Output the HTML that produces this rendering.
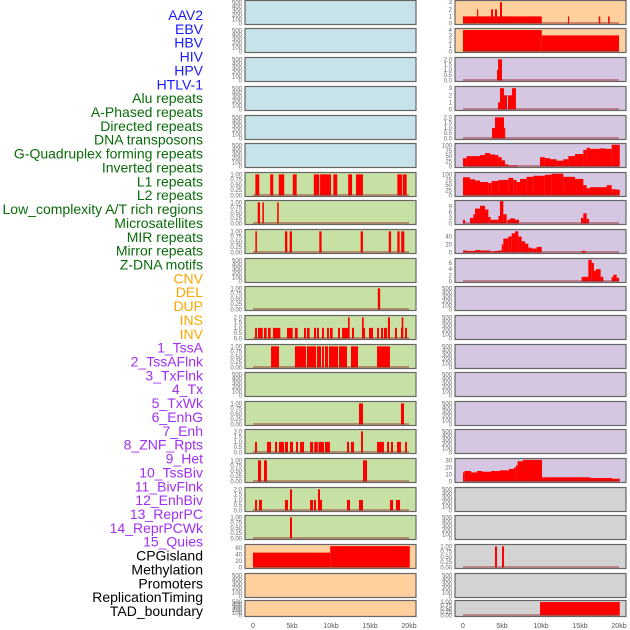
<!DOCTYPE html>
<html><head><meta charset="utf-8"><style>
html,body{margin:0;padding:0;background:#fff;}
svg{display:block;font-family:"Liberation Sans",sans-serif;}
</style></head><body>
<svg id="chart" width="630" height="630" viewBox="0 0 630 630" xmlns="http://www.w3.org/2000/svg"></svg>
<script>
const featureLabels = ["AAV2","EBV","HBV","HIV","HPV","HTLV-1","Alu repeats","A-Phased repeats","Directed repeats","DNA transposons","G-Quadruplex forming repeats","Inverted repeats","L1 repeats","L2 repeats","Low_complexity A/T rich regions","Microsatellites","MIR repeats","Mirror repeats","Z-DNA motifs","CNV","DEL","DUP","INS","INV","1_TssA","2_TssAFlnk","3_TxFlnk","4_Tx","5_TxWk","6_EnhG","7_Enh","8_ZNF_Rpts","9_Het","10_TssBiv","11_BivFlnk","12_EnhBiv","13_ReprPC","14_ReprPCWk","15_Quies","CPGisland","Methylation","Promoters","ReplicationTiming","TAD_boundary"];
const labelGroups = [6,13,5,15,5];
const xTickKb = [0,5,10,15,20];
const xTickLabels = ["0","5kb","10kb","15kb","20kb"];

const T500 = ["0","100","200","300","400","500"];
const T1 = ["0.00","0.25","0.50","0.75","1.00"];
const T2 = ["0.0","0.5","1.0","1.5","2.0"];

const leftBg = ["b","b","b","b","b","b","g","g","g","g","g","g","g","g","g","g","g","g","g","p","p","p"];
const leftTicks = [T500,T500,T500,T500,T500,T500,T1,T1,T1,T500,T1,T2,T1,T500,T1,T2,T1,T2,T1,["0","20","40","60"],T500,T500];
const leftYmax = [520,520,520,520,520,520,1.04,1.04,1.04,520,1.04,2.08,1.04,520,1.04,2.08,1.04,2.08,1.04,68,520,520];
const leftBars = [
 [],[],[],[],[],[],
 [[0.3,0.8,1],[2.2,2.6,1],[3.3,4.0,1],[5.1,5.6,1],[7.8,8.5,1],[8.6,10.0,1],[10.3,10.8,1],[12.2,12.7,1],[13.2,14.1,1],[18.5,19.1,1],[19.2,19.7,1]],
 [[0.6,0.9,1],[1.2,1.4,1],[3.1,3.3,1]],
 [[0.3,0.5,1],[4.1,4.4,1],[4.7,5.0,1],[8.5,8.8,1],[13.8,14.1,1],[17.4,17.7,1],[18.5,18.8,1],[19.0,19.4,1]],
 [],
 [[16.0,16.3,1]],
 [[0.26,0.51,1],[0.64,1.24,1],[1.41,1.75,1],[1.92,2.26,1],[2.56,3.5,1],[4.36,5.09,1],[5.38,5.73,1],[6.54,6.79,1],[6.92,7.26,1],[7.82,8.08,1],[8.21,8.46,1],[8.85,9.1,1],[9.49,9.74,1],[9.87,10.21,1],[10.9,11.15,1],[11.41,12.18,1],[12.69,12.95,1],[14.1,14.36,1],[14.87,15.38,1],[15.9,16.15,1],[16.41,16.67,1],[16.79,17.18,1],[18.2,18.46,1],[18.97,19.23,1],[19.49,19.74,1],[12.18,12.39,2],[13.97,14.19,2],[17.3,17.56,2],[19.06,19.27,2]],
 [[2.31,3.33,1],[5.38,6.79,1],[6.92,8.08,1],[8.21,8.72,1],[8.85,9.1,1],[9.23,9.62,1],[9.74,10.9,1],[11.03,12.05,1],[12.56,13.46,1],[15.9,17.56,1]],
 [],
 [[13.59,14.1,1],[18.97,19.36,1]],
 [[0.26,0.51,1],[1.79,2.31,1],[2.82,3.08,1],[3.33,3.97,1],[4.1,4.49,1],[4.74,5.13,1],[5.51,5.77,1],[6.03,6.54,1],[7.31,7.7,1],[7.85,8.3,1],[8.4,9.1,1],[9.23,9.87,1],[12.05,12.31,1],[12.56,12.95,1],[15.9,16.79,1],[17.18,17.44,1],[17.69,17.95,1],[18.46,18.97,1],[19.49,19.74,1],[13.85,14.1,2]],
 [[0.64,1.03,1],[1.41,1.79,1],[14.1,14.62,1]],
 [[0.26,0.51,1],[0.77,1.15,1],[4.1,4.49,1],[7.31,7.69,1],[7.82,8.08,1],[8.46,8.85,1],[12.05,12.44,1],[13.59,14.1,1],[17.56,17.95,1],[18.33,18.85,1],[4.74,5.0,2],[8.33,8.59,2]],
 [[4.74,5.0,1]],
 [[0,9.9,46],[9.9,20.1,66]],
 [],[]
];

const rightBg = ["p","p","l","l","l","l","l","l","l","l","l","l","l","l","l","l","l","r","r","r","r","r"];
const rightTicks = [["0","1","2","3"],["0","1","2","3","4"],T2,["0","1","2","3"],T2,["0","25","50","75","100"],["0","25","50","75","100"],["0","3","6","9"],["0","20","40"],["0","2","4","6"],T500,T500,T500,T500,T500,T500,["0","10","20","30"],T500,T500,T1,T500,T1];
const rightYmax = [3.1,4.1,2.08,3.1,2.08,106,106,11.8,55,7.1,520,520,520,520,520,520,31.5,520,520,1.04,520,1.04];
const rightBars = [
 [[0,10.1,1],[1.8,1.92,2],[3.6,3.85,2],[4.1,4.36,2],[4.74,5.0,3],[13.46,13.6,1],[17.4,17.6,1],[18.6,18.8,1]],
 [[0,10.1,4],[10.1,20,3]],
 [[4.36,4.6,1],[4.5,5.0,2]],
 [[4.49,4.74,1],[4.74,5.26,3],[5.26,5.64,2],[5.77,6.28,2],[6.28,6.79,3]],
 [[3.72,4.1,1],[4.1,5.26,2],[5.26,5.38,1]],
 [[0,0.47,40],[0.47,2.18,50],[2.18,2.82,55],[2.82,3.46,65],[3.46,4.1,58],[4.1,4.53,55],[4.53,4.96,45],[4.96,5.38,30],[5.38,5.81,10],[5.81,7.0,5],[9.87,10.5,45],[10.5,11.15,40],[11.15,12.0,35],[12.0,12.86,28],[12.86,13.5,35],[13.5,14.36,50],[14.36,15.43,60],[15.43,15.85,80],[15.85,16.28,90],[16.28,17.56,85],[17.56,18.2,87],[18.2,19.06,85],[19.06,20.1,105]],
 [[0,0.9,88],[0.9,1.54,78],[1.54,2.18,72],[2.18,3.25,65],[3.25,3.68,60],[3.68,4.53,70],[4.53,5.81,75],[5.81,6.45,85],[6.45,6.88,75],[6.88,7.31,65],[7.31,8.16,80],[8.16,9.02,90],[9.02,10.5,95],[10.5,11.37,100],[11.37,12.86,105],[12.86,14.36,90],[14.36,15.43,80],[15.43,15.85,50],[15.85,16.28,35],[16.28,18.42,40],[18.42,19.06,50],[19.06,19.7,30],[19.7,20.1,28]],
 [[0,0.26,2],[0.9,1.33,3],[1.33,1.54,5],[1.54,2.18,8],[2.18,2.82,9.5],[2.82,3.25,7.5],[3.25,3.55,3.5],[3.55,4.53,2],[4.53,4.74,4],[4.74,5.17,12],[5.17,5.6,5],[5.68,6.03,2],[6.03,6.67,2.7],[6.67,7.18,2],[15.13,15.43,3],[15.43,15.85,5.5],[15.85,16.15,2.5]],
 [[0,0.51,5],[0.47,1.54,4],[1.54,2.18,6],[2.18,3.46,5],[3.46,4.1,3],[4.1,4.53,4],[4.53,4.96,5],[4.96,5.17,20],[5.17,5.81,35],[5.81,6.24,40],[6.24,6.67,48],[6.67,7.09,53],[7.09,7.52,40],[7.52,7.95,28],[7.95,8.38,22],[8.38,8.8,12],[8.8,9.44,10],[9.44,10.09,14],[15.21,15.73,4]],
 [[15.21,16.07,1.5],[16.07,16.5,7],[16.5,16.79,6],[16.79,17.05,3.5],[17.05,17.65,4],[17.65,17.99,1.5],[19.06,19.27,1.5],[19.27,19.7,2.2],[19.7,20.0,1.2]],
 [],[],[],[],[],[],
 [[0,0.17,13],[0.17,1.03,15],[1.03,1.79,13],[1.79,2.44,15],[2.44,3.59,14],[3.59,4.74,15],[4.74,5.9,16],[5.9,6.54,18],[6.54,6.79,20],[6.79,7.0,23],[7.0,7.69,29],[7.69,10.13,31],[10.13,16.28,6],[16.28,19.1,5],[19.1,20.1,4]],
 [],[],
 [[4.1,4.36,1],[5.0,5.26,1]],
 [],
 [[9.87,20.1,1]]
];

const rowTops = [0,28,57,86,115,143,172,200,229,258,286,315,344,372,401,429,458,487,515,544,573,600];
const bgColors = {b:"#c6e3ea",g:"#c7e1a4",p:"#fed09e",l:"#d5c6e2",r:"#d3d3d3"};
const NS = "http://www.w3.org/2000/svg";
const svg = document.getElementById("chart");
function mk(tag, attrs, parent){
  const e = document.createElementNS(NS, tag);
  for (const k in attrs) e.setAttribute(k, attrs[k]);
  (parent||svg).appendChild(e);
  return e;
}

const groupColors = ["#1a1aff","#0a6b0a","#ffa500","#a030f0","#000000"];
const labelStep = (616 - 20) / (featureLabels.length - 1);
let gi = 0, cnt = 0;
featureLabels.forEach((lab, i) => {
  if (cnt >= labelGroups[gi]) { gi++; cnt = 0; }
  cnt++;
  const t = mk("text", {x:203, y:(20 + i*labelStep).toFixed(1), "text-anchor":"end", "font-size":"14", fill:groupColors[gi]});
  
  
  t.textContent = lab;
});

function drawColumn(px0, bgs, ticks, ymaxes, bars, side){
  const kbStart = px0 + 8, kbW = 156;
  const xs = kb => kbStart + kb/20*kbW;
  rowTops.forEach((top, i) => {
    const h = (i === rowTops.length-1) ? 17 : 25;
    const bottom = top + h;
    const g = mk("g", {});
    
    
    mk("rect", {x:px0, y:top+0.5, width:171, height:h-1, fill:bgColors[bgs[i]], stroke:"#666", "stroke-width":"1.2"}, g);
    const ys = v => bottom - 1.5 - v/ymaxes[i]*(h-3);
    const b = bars[i];
    b.forEach(d => {
      const r = mk("rect", {x:xs(d[0]).toFixed(2), y:ys(d[2]).toFixed(2), width:Math.max(1.2, xs(d[1])-xs(d[0])).toFixed(2), height:(ys(0)-ys(d[2])).toFixed(2), fill:"#ff0000"}, g);
      
      
    });
    if (b.length) {
      const bl = mk("line", {x1:xs(0), x2:xs(20), y1:bottom-2, y2:bottom-2, stroke:"rgba(150,30,30,0.55)", "stroke-width":"1.5"}, g);
      
      
    }
    ticks[i].forEach(tl => {
      const v = parseFloat(tl);
      const t = mk("text", {x:px0-3, y:(ys(v)+2).toFixed(1), "text-anchor":"end", "font-size":"6", fill:"#666"}, g);
      
      
      t.textContent = tl;
    });
  });
  xTickKb.forEach((kb, j) => {
    const t = mk("text", {x:xs(kb), y:628, "text-anchor":"middle", "font-size":"7", fill:"#555"});
    
    
    t.textContent = xTickLabels[j];
  });
}
drawColumn(245, leftBg, leftTicks, leftYmax, leftBars, 'left');
drawColumn(455, rightBg, rightTicks, rightYmax, rightBars, 'right');
</script>
</body></html>
